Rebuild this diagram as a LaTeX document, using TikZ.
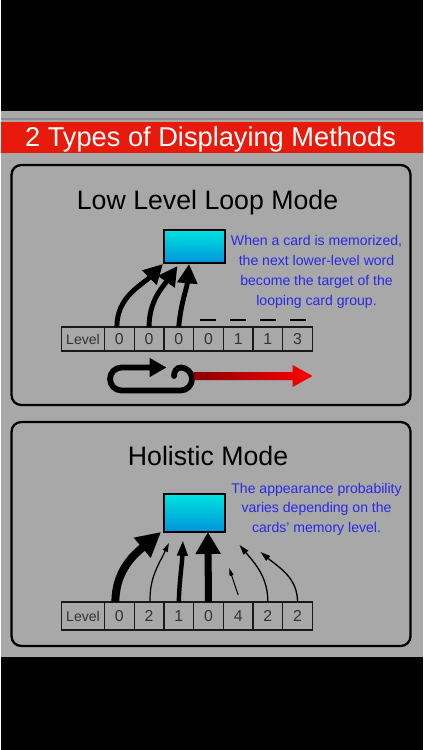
\documentclass[tikz,border=0pt]{standalone}
\usepackage{fontspec}
\setmainfont{Liberation Sans}
\usetikzlibrary{arrows.meta, positioning, calc}

\definecolor{bggray}{HTML}{A8A8A8}
\definecolor{bandred}{HTML}{E81A0C}
\definecolor{noteblue}{HTML}{2A2AE6}
\definecolor{cardtop}{HTML}{00E4E0}
\definecolor{cardbot}{HTML}{0094DA}

\begin{document}
\begin{tikzpicture}[
  x=0.02cm, y=0.02cm,
  panel/.style={draw, line width=1.3pt, rounded corners=5.5pt, fill=bggray, minimum width=7.98cm, inner sep=0pt, outer sep=0pt},
  card/.style={draw, line width=1.4pt, top color=cardtop, bottom color=cardbot, minimum width=1.22cm, inner sep=0pt, outer sep=0pt},
  cell/.style={draw=black!90, line width=0.8pt, minimum width=0.594cm, inner sep=0pt, outer sep=0pt, text=black!80, font=\fontsize{9}{10}\selectfont},
  lvcell/.style={cell, minimum width=0.86cm, font=\fontsize{8}{10}\selectfont},
  heading/.style={anchor=base, font=\fontsize{15.2}{18}\selectfont},
  note/.style={text=noteblue, align=center, anchor=north, inner sep=0pt, font=\fontsize{8}{11.3}\selectfont},
  bigarrow/.style={-{Triangle[length=11pt, width=11pt]}, line width=2.8pt},
  thinarrow/.style={-{Triangle[length=5.7pt, width=3.4pt]}, line width=0.75pt}
  ]

% screen
\fill[black] (0,0) rectangle (422,-750);
\fill[bggray] (0,-111) rectangle (422,-657);
\draw[black!45, line width=0.6pt] (0,-119) -- (422,-119);
\fill[bandred] (0,-122) rectangle (422,-153);
\node[anchor=base, text=white, font=\fontsize{15.5}{18}\selectfont] (header) at (210,-146) {2 Types of Displaying Methods};

% low level loop mode
\node[panel, minimum height=4.8cm] (loopPanel) at (210.5,-285) {};
\node[heading] (loopTitle) at (207,-209) {Low Level Loop Mode};
\node[card, minimum height=0.66cm] (card1) at (194,-246.5) {};
\node[note] (loopNote) at (316,-235) {When a card is memorized,\\the next lower-level word\\become the target of the\\looping card group.};

\node[lvcell, minimum height=0.48cm] (lo0) at (82.5,-339) {Level};
\foreach \v [count=\i, remember=\i as \j (initially 0)] in {0,0,0,0,1,1,3}
  \node[cell, minimum height=0.48cm, right=0pt of lo\j] (lo\i) {\v};
\foreach \i in {4,...,7}
  \draw[line width=1.1pt] ($(lo\i.north)+(-8,7)$) -- ($(lo\i.north)+(8,7)$);

\draw[bigarrow] ([xshift=-0.05cm]lo1.north) to[out=90, in=-135] ($(card1.south west)+(-1,-1)$);
\draw[bigarrow] (lo2.north) to[out=90, in=-125] ($(card1.south west)!0.22!(card1.south east)+(0,-3)$);
\draw[bigarrow] (lo3.north) to[out=85, in=-95] ($(card1.south west)!0.41!(card1.south east)+(0,-1)$);

% loop icon and red arrow
\draw[line width=3.3pt, line cap=round, -{Triangle[length=9.6pt, width=10.2pt]}]
  (173.5,-376) to[out=90, in=180] (180,-367.5)
  arc[start angle=90, end angle=-90, radius=11.5] -- (121,-390.5)
  arc[start angle=270, end angle=90, radius=11.5] -- (166,-367.5);
\shade[left color=red!55!black, right color=red]
  (193,-372) -- (292,-372) -- (292,-365) -- (312,-376) -- (292,-387) -- (292,-380) -- (193,-380) -- cycle;

% holistic mode
\node[panel, minimum height=4.48cm] (holPanel) at (210.5,-534) {};
\node[heading] (holTitle) at (207.5,-465) {Holistic Mode};
\node[card, minimum height=0.76cm] (card2) at (194,-513) {};
\node[note] (holNote) at (316,-482.5) {The appearance probability\\varies depending on the\\cards' memory level.};

\node[lvcell, minimum height=0.56cm] (ho0) at (82.5,-616) {Level};
\foreach \v [count=\i, remember=\i as \j (initially 0)] in {0,2,1,0,4,2,2}
  \node[cell, minimum height=0.56cm, right=0pt of ho\j] (ho\i) {\v};

\draw[-{Triangle[length=14pt, width=14pt]}, line width=4.5pt] ([xshift=-0.08cm]ho1.north) to[out=90, in=-140] ($(card2.south west)+(-3,0)$);
\draw[-{Triangle[length=5pt, width=3pt]}, line width=0.7pt] ([xshift=0.02cm]ho2.north) to[out=92, in=-115] ($(card2.south west)!0.08!(card2.south east)+(0,-11)$);
\draw[-{Triangle[length=9pt, width=5.7pt]}, line width=2.5pt] (ho3.north) to[out=88, in=-92] ($(card2.south west)!0.31!(card2.south east)+(0,-8)$);
\draw[-{Triangle[length=12.5pt, width=13.6pt]}, line width=4pt] (ho4.north) -- ($(card2.south west)!0.72!(card2.south east)$);
\draw[-{Triangle[length=4.5pt, width=2.3pt]}, line width=0.6pt] ($(ho5.north)+(0,7)$) -- ($(ho5.north)+(-9,34)$);
\draw[thinarrow] (ho6.north) to[out=90, in=-50] ($(card2.south east)+(14.5,-13)$);
\draw[thinarrow] (ho7.north) to[out=90, in=-40] ($(card2.south east)+(35.5,-20)$);

\end{tikzpicture}
\end{document}
